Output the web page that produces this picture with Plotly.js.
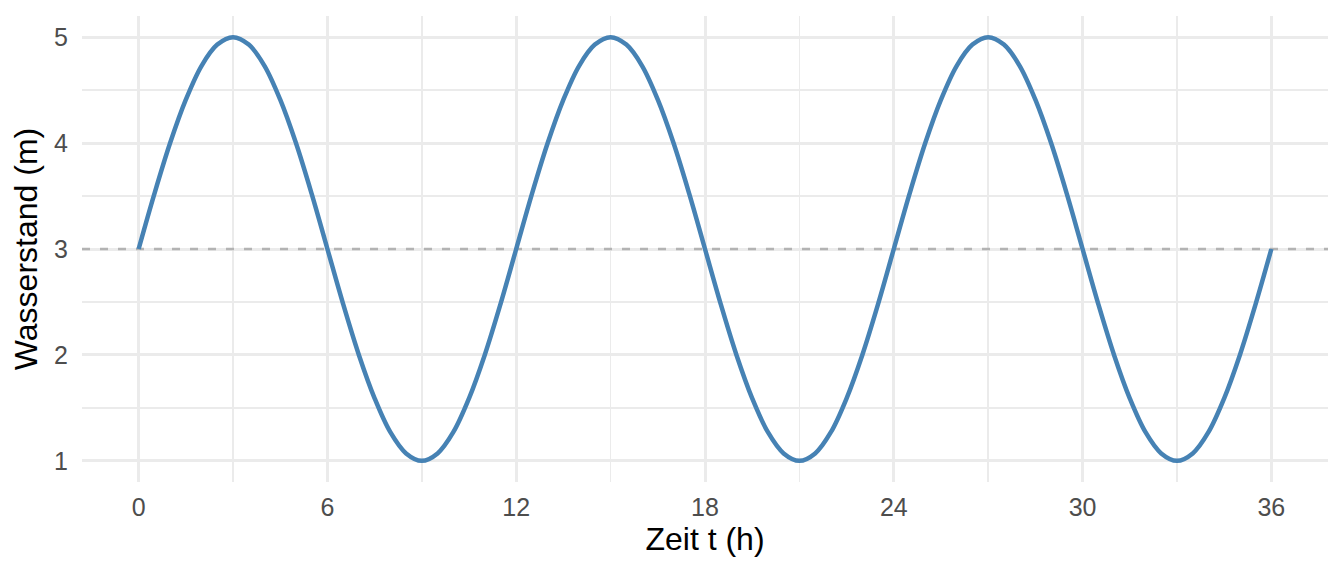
<!DOCTYPE html>
<html>
<head>
<meta charset="utf-8">
<script src="https://cdn.plot.ly/plotly-3.0.1.min.js"></script>
<style>html,body{margin:0;padding:0;background:#fff;}#chart{width:1344px;height:576px;}</style>
</head>
<body>
<div id="chart"></div>
<script>
const zeit = [0,0.5,1,1.5,2,2.5,3,3.5,4,4.5,5,5.5,6,6.5,7,7.5,8,8.5,9,9.5,10,10.5,11,11.5,
  12,12.5,13,13.5,14,14.5,15,15.5,16,16.5,17,17.5,18,18.5,19,19.5,20,20.5,21,21.5,22,22.5,23,23.5,
  24,24.5,25,25.5,26,26.5,27,27.5,28,28.5,29,29.5,30,30.5,31,31.5,32,32.5,33,33.5,34,34.5,35,35.5,36];
const wasserstand = [3.00,3.52,4.00,4.41,4.73,4.93,5.00,4.93,4.73,4.41,4.00,3.52,3.00,2.48,2.00,1.59,1.27,1.07,1.00,1.07,1.27,1.59,2.00,2.48,
  3.00,3.52,4.00,4.41,4.73,4.93,5.00,4.93,4.73,4.41,4.00,3.52,3.00,2.48,2.00,1.59,1.27,1.07,1.00,1.07,1.27,1.59,2.00,2.48,
  3.00,3.52,4.00,4.41,4.73,4.93,5.00,4.93,4.73,4.41,4.00,3.52,3.00,2.48,2.00,1.59,1.27,1.07,1.00,1.07,1.27,1.59,2.00,2.48,3.00];
const mittelwert = 3;
const xTicks = [0,6,12,18,24,30,36];
const yTicks = [1,2,3,4,5];
const xRange = [-1.8, 37.8];
const yRange = [0.8, 5.2];

const refLine = {
  x: xRange, y: [mittelwert, mittelwert], type: 'scatter', mode: 'lines',
  line: {color: '#b3b3b3', width: 2.5, dash: '8px,10px'}, hoverinfo: 'skip'
};
const trace = {
  x: zeit, y: wasserstand, type: 'scatter', mode: 'lines',
  line: {color: '#4682B4', width: 4.5, shape: 'spline', smoothing: 1},
  hoverinfo: 'skip'
};
const font = 'Liberation Sans, Arial, sans-serif';
const layout = {
  width: 1344, height: 576,
  margin: {l: 82, r: 16, t: 16, b: 94},
  paper_bgcolor: '#fff', plot_bgcolor: '#fff',
  showlegend: false,
  font: {family: font},
  xaxis: {
    range: xRange, tickvals: xTicks, ticktext: xTicks.map(String),
    showgrid: true, gridcolor: '#ebebeb', gridwidth: 3, zeroline: false, showline: false,
    minor: {dtick: 3, tick0: 3, showgrid: true, gridcolor: '#ebebeb', gridwidth: 1.6},
    ticks: 'outside', ticklen: 3, tickcolor: 'rgba(0,0,0,0)',
    tickfont: {size: 25, color: '#4d4d4d', family: font},
    title: {text: 'Zeit t (h)', font: {size: 32, color: '#000', family: font}, standoff: 6},
    automargin: false
  },
  yaxis: {
    range: yRange, tickvals: yTicks, ticktext: yTicks.map(String),
    showgrid: true, gridcolor: '#ebebeb', gridwidth: 3, zeroline: false, showline: false,
    minor: {dtick: 0.5, tick0: 0.5, showgrid: true, gridcolor: '#ebebeb', gridwidth: 1.6},
    ticks: 'outside', ticklen: 8, tickcolor: 'rgba(0,0,0,0)',
    tickfont: {size: 25, color: '#4d4d4d', family: font},
    title: {text: 'Wasserstand (m)', font: {size: 32, color: '#000', family: font}, standoff: 6},
    automargin: false
  }
};
Plotly.newPlot('chart', [refLine, trace], layout, {displayModeBar: false, staticPlot: true});
</script>
</body>
</html>
